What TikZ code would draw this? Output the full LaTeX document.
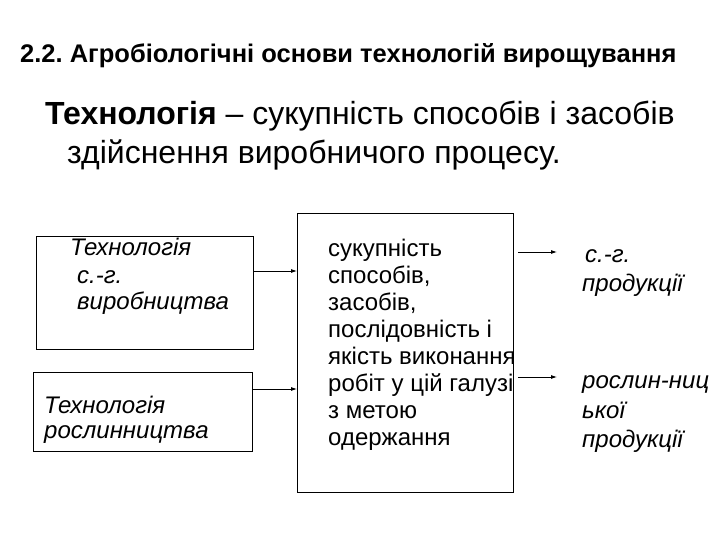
\documentclass[tikz,border=0pt]{standalone}
\usepackage{fontspec}
\setmainfont{Liberation Sans}
\usetikzlibrary{arrows.meta}
\frenchspacing
\tikzset{
  box/.style={draw, line width=0.8pt, inner sep=0, anchor=north west},
  txt/.style={inner sep=0, anchor=base west, align=left},
  itxt/.style={txt, font=\fontsize{24}{27}\selectfont\itshape},
  mtxt/.style={txt, font=\fontsize{24}{27}\selectfont},
  conn/.style={line width=0.8pt, -{Latex[length=6pt,width=4pt]}}
}
\begin{document}
\begin{tikzpicture}[x=1pt,y=-1pt]
\useasboundingbox (0,0) rectangle (720,540);
\node[txt, font=\fontsize{25.5}{30}\selectfont\bfseries] (title) at (20,63) {2.2. Агробіологічні основи технологій вирощування};
\node[txt, font=\fontsize{32}{40}\selectfont] (def1) at (45,125) {\textbf{Технологія} – сукупність способів і засобів};
\node[txt, font=\fontsize{32}{40}\selectfont] (def2) at (67,164) {здійснення виробничого процесу.};
% boxes
\node[box, minimum width=217, minimum height=113] (b1) at (36,236) {};
\node[box, minimum width=219, minimum height=79] (b2) at (33,372) {};
\node[box, minimum width=216, minimum height=279] (mid) at (297,213) {};
% box texts
\node[itxt] (t1a) at (70,255) {Технологія};
\node[itxt] (t1b) at (77,283) {с.-г.};
\node[itxt] (t1c) at (77,309) {виробництва};
\node[itxt] (t2a) at (44,413) {Технологія};
\node[itxt] (t2b) at (44,438) {рослинництва};
\node[mtxt] (m) at (328,445) {сукупність\\способів,\\засобів,\\послідовність і\\якість виконання\\робіт у цій галузі\\з метою\\одержання};
% right labels
\node[itxt] (r1a) at (585,262) {с.-г.};
\node[itxt] (r1b) at (582,291) {продукції};
\node[itxt] (r2a) at (582,388) {рослин-ниц};
\node[itxt] (r2b) at (582,418) {ької};
\node[itxt] (r2c) at (582,447) {продукції};
% connectors
\coordinate (y1) at (0,271);
\coordinate (y2) at (0,389);
\coordinate (s1) at (518,252);
\coordinate (e1) at (557,252);
\coordinate (s2) at (518,377);
\coordinate (e2) at (557,377);
\draw[conn] (b1.east |- y1) -- (mid.west |- y1);
\draw[conn] (b2.east |- y2) -- (mid.west |- y2);
\draw[conn] (s1) -- (e1);
\draw[conn] (s2) -- (e2);
\end{tikzpicture}
\end{document}
